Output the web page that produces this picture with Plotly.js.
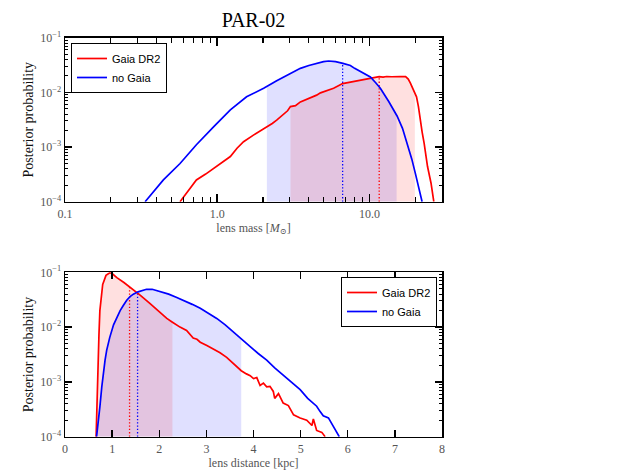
<!DOCTYPE html>
<html>
<head>
<meta charset="utf-8">
<script src="https://cdn.plot.ly/plotly-3.0.1.min.js"></script>
<style>html,body{margin:0;padding:0;background:#fff;}#chart{width:627px;height:470px;}</style>
</head>
<body>
<div id="chart"></div>
<script>
// ---------- data ----------
// Top panel: lens mass [M_sun] vs posterior probability
const massNoGaia = [0.336, 0.443, 0.57, 0.73, 0.95, 1.22, 1.56, 2.02, 2.46, 2.9, 3.52, 4.0, 4.53, 5.0, 5.4, 6.0, 6.7, 7.5, 8.0, 9.0, 10.15, 11.0, 11.8, 13.4, 15.2, 16.5, 17.7, 19.0, 20.1, 21.2, 22.2];
const probMassNoGaia = [1e-4, 2.5e-4, 5.0e-4, 1.1e-3, 2.36e-3, 4.8e-3, 8.3e-3, 1.19e-2, 1.63e-2, 2.1e-2, 2.75e-2, 3.1e-2, 3.4e-2, 3.65e-2, 3.75e-2, 3.65e-2, 3.4e-2, 3.1e-2, 2.75e-2, 2.3e-2, 1.92e-2, 1.5e-2, 1.19e-2, 6.8e-3, 3.7e-3, 2.2e-3, 1.2e-3, 6e-4, 3.2e-4, 1.7e-4, 1e-4];
const massGaia = [0.57, 0.65, 0.73, 0.84, 0.95, 1.08, 1.22, 1.35, 1.49, 1.73, 1.95, 2.12, 2.3, 2.46, 2.6, 2.73, 2.9, 3.03, 3.27, 3.52, 3.8, 4.1, 4.5, 4.77, 5.3, 5.82, 6.67, 7.3, 8.0, 8.8, 9.66, 10.4, 11.6, 12.3, 13.0, 14.0, 15.0, 16.0, 17.3, 18.0, 18.6, 19.5, 20.4, 21.0, 21.4, 22.2, 22.9, 24.1, 25.4, 26.5];
const probMassGaia = [1e-4, 1.6e-4, 2.5e-4, 3.2e-4, 4.1e-4, 5.3e-4, 6.7e-4, 9.5e-4, 1.25e-3, 1.65e-3, 2.0e-3, 2.36e-3, 2.7e-3, 3.1e-3, 3.5e-3, 4.0e-3, 4.6e-3, 5.5e-3, 5.7e-3, 6.7e-3, 7.3e-3, 8.0e-3, 8.9e-3, 9.8e-3, 1.08e-2, 1.19e-2, 1.45e-2, 1.52e-2, 1.62e-2, 1.72e-2, 1.8e-2, 1.88e-2, 1.94e-2, 1.9e-2, 1.95e-2, 1.93e-2, 1.96e-2, 1.95e-2, 1.94e-2, 1.75e-2, 1.47e-2, 1.1e-2, 8.3e-3, 5.5e-3, 3.6e-3, 1.9e-3, 1.17e-3, 4.4e-4, 2.2e-4, 1e-4];
// credible intervals (shaded) and medians (dotted)
const massIntervalNoGaia = [2.12, 15.1];
const massIntervalGaia = [3.03, 19.9];
const massMedianNoGaia = 6.67;
const massMedianGaia = 11.6;

// Bottom panel: lens distance [kpc] vs posterior probability
const distGaia = [0.66, 0.69, 0.72, 0.74, 0.77, 0.80, 0.87, 0.95, 1.0, 1.1, 1.25, 1.45, 1.6, 1.8, 2.0, 2.16, 2.28, 2.44, 2.58, 2.72, 2.80, 2.87, 3.01, 3.15, 3.29, 3.43, 3.57, 3.74, 3.85, 3.93, 4.0, 4.07, 4.14, 4.21, 4.28, 4.35, 4.42, 4.45, 4.53, 4.63, 4.74, 4.85, 4.99, 5.13, 5.24, 5.27, 5.34, 5.45, 5.52];
const probDistGaia = [1e-4, 1.3e-3, 7e-3, 0.02, 0.04, 0.06, 0.088, 0.098, 0.095, 0.08, 0.065, 0.048, 0.038, 0.027, 0.019, 0.0144, 0.0123, 0.010, 8.7e-3, 6.3e-3, 6.0e-3, 5.3e-3, 4.6e-3, 4.0e-3, 3.4e-3, 2.8e-3, 2.2e-3, 1.6e-3, 1.4e-3, 1.3e-3, 1.15e-3, 1.2e-3, 8.6e-4, 9.5e-4, 8.1e-4, 8.3e-4, 6.7e-4, 5.0e-4, 6.1e-4, 4.1e-4, 3.7e-4, 2.5e-4, 2.2e-4, 2.0e-4, 1.6e-4, 2.1e-4, 1.3e-4, 1.2e-4, 1e-4];
const distNoGaia = [0.67, 0.70, 0.74, 0.78, 0.81, 0.85, 0.885, 0.95, 1.03, 1.1, 1.17, 1.24, 1.31, 1.38, 1.45, 1.55, 1.65, 1.73, 1.85, 2.02, 2.2, 2.36, 2.51, 2.7, 2.87, 3.05, 3.22, 3.4, 3.57, 3.75, 3.93, 4.1, 4.28, 4.45, 4.63, 4.8, 4.99, 5.15, 5.34, 5.41, 5.48, 5.59, 5.65, 5.7, 5.76, 5.82];
const probDistNoGaia = [1e-4, 2e-4, 3.5e-4, 8e-4, 1.4e-3, 2.5e-3, 3.8e-3, 6.5e-3, 0.011, 0.015, 0.02, 0.025, 0.031, 0.036, 0.040, 0.044, 0.047, 0.049, 0.049, 0.045, 0.040, 0.035, 0.031, 0.026, 0.022, 0.018, 0.0144, 0.011, 8.3e-3, 6.0e-3, 4.4e-3, 3.3e-3, 2.5e-3, 1.8e-3, 1.34e-3, 1.0e-3, 7.2e-4, 5.0e-4, 3.6e-4, 2.9e-4, 2.4e-4, 2.2e-4, 1.8e-4, 1.5e-4, 1.25e-4, 1e-4];
const distIntervalNoGaia = [0.67, 3.74];
const distIntervalGaia = [0.66, 2.28];
const distMedianNoGaia = 1.54;
const distMedianGaia = 1.37;

const seriesNames = ['Gaia DR2', 'no Gaia'];
const yTickVals = [1e-4, 1e-3, 1e-2, 1e-1];
const yTickText = ['10<sup>−4</sup>', '10<sup>−3</sup>', '10<sup>−2</sup>', '10<sup>−1</sup>'];
const massTickVals = [0.1, 1, 10];
const massTickText = ['0.1', '1.0', '10.0'];
const yFloor = 1e-4;

// ---------- helpers ----------
function interp(xs, ys, x, logx) {
  const fx = v => logx ? Math.log10(v) : v;
  for (let i = 0; i < xs.length - 1; i++) {
    if (x >= xs[i] && x <= xs[i + 1]) {
      const t = (fx(x) - fx(xs[i])) / (fx(xs[i + 1]) - fx(xs[i]));
      return Math.pow(10, Math.log10(ys[i]) + t * (Math.log10(ys[i + 1]) - Math.log10(ys[i])));
    }
  }
  return x < xs[0] ? ys[0] : ys[ys.length - 1];
}
function shade(xs, ys, iv, logx, color, xa, ya) {
  const px = [iv[0]], py = [interp(xs, ys, iv[0], logx)];
  xs.forEach((x, i) => { if (x > iv[0] && x < iv[1]) { px.push(x); py.push(ys[i]); } });
  px.push(iv[1]); py.push(interp(xs, ys, iv[1], logx));
  px.push(iv[1], iv[0]); py.push(yFloor, yFloor);
  return {x: px, y: py, xaxis: xa, yaxis: ya, type: 'scatter', mode: 'lines', fill: 'toself',
          fillcolor: color, line: {width: 0}, hoverinfo: 'skip', showlegend: false};
}
function median(xs, ys, m, logx, color, xa, ya) {
  return {x: [m, m], y: [yFloor, interp(xs, ys, m, logx)], xaxis: xa, yaxis: ya, type: 'scatter', mode: 'lines',
          line: {color: color, width: 1.3, dash: '1.3px,2px'}, hoverinfo: 'skip', showlegend: false};
}
const RED = '#ff0000', BLUE = '#0000ff';
const RED_FILL = 'rgba(255,0,0,0.12)', BLUE_FILL = 'rgba(0,0,255,0.12)';

const traces = [
  shade(massNoGaia, probMassNoGaia, massIntervalNoGaia, true, BLUE_FILL, 'x', 'y'),
  shade(massGaia, probMassGaia, massIntervalGaia, true, RED_FILL, 'x', 'y'),
  median(massNoGaia, probMassNoGaia, massMedianNoGaia, true, BLUE, 'x', 'y'),
  median(massGaia, probMassGaia, massMedianGaia, true, RED, 'x', 'y'),
  {x: massGaia, y: probMassGaia, xaxis: 'x', yaxis: 'y', type: 'scatter', mode: 'lines', name: seriesNames[0],
   line: {color: RED, width: 1.7}, legend: 'legend'},
  {x: massNoGaia, y: probMassNoGaia, xaxis: 'x', yaxis: 'y', type: 'scatter', mode: 'lines', name: seriesNames[1],
   line: {color: BLUE, width: 1.7}, legend: 'legend'},

  shade(distNoGaia, probDistNoGaia, distIntervalNoGaia, false, BLUE_FILL, 'x2', 'y2'),
  shade(distGaia, probDistGaia, distIntervalGaia, false, RED_FILL, 'x2', 'y2'),
  median(distGaia, probDistGaia, distMedianGaia, false, RED, 'x2', 'y2'),
  median(distNoGaia, probDistNoGaia, distMedianNoGaia, false, BLUE, 'x2', 'y2'),
  {x: distGaia, y: probDistGaia, xaxis: 'x2', yaxis: 'y2', type: 'scatter', mode: 'lines', name: seriesNames[0],
   line: {color: RED, width: 1.7}, legend: 'legend2'},
  {x: distNoGaia, y: probDistNoGaia, xaxis: 'x2', yaxis: 'y2', type: 'scatter', mode: 'lines', name: seriesNames[1],
   line: {color: BLUE, width: 1.7}, legend: 'legend2'}
];

// minor tick positions for log axes
function logMinor(d0, d1) { const v = []; for (let d = d0; d < d1; d++) for (let k = 2; k <= 9; k++) v.push(k * Math.pow(10, d)); return v; }

const SERIF = 'Liberation Serif, DejaVu Serif, serif';
const tickFont = {family: SERIF, size: 12, color: '#555'};
const W = 627, H = 470;
const xDom = [65 / W, 442 / W];
const logY = (dom) => ({
  type: 'log', domain: dom, range: [-4, -1], tickmode: 'array', tickvals: yTickVals, ticktext: yTickText,
  ticks: 'inside', ticklen: 7, tickwidth: 1.3, tickcolor: '#000', showline: true, linecolor: '#000', linewidth: 1.5,
  mirror: 'allticks', showgrid: false, zeroline: false, tickfont: tickFont,
  minor: {ticks: 'inside', ticklen: 3, tickwidth: 1, tickcolor: '#000', tickmode: 'array', tickvals: logMinor(-4, -1)},
  title: {text: 'Posterior probability', font: {family: SERIF, size: 14, color: '#111'}, standoff: 3}
});

const legendFont = {family: 'Liberation Sans, Arial, sans-serif', size: 11, color: '#000'};
const layout = {
  width: W, height: H, margin: {l: 0, r: 0, t: 0, b: 0},
  paper_bgcolor: '#fff', plot_bgcolor: '#fff', showlegend: true,
  title: {text: 'PAR-02', x: 253.5 / W, xanchor: 'center', y: 1 - 20 / H, yanchor: 'middle', yref: 'container',
          font: {family: SERIF, size: 20, color: '#000'}},
  xaxis: {
    type: 'log', domain: xDom, range: [-1, Math.log10(30)], anchor: 'y',
    tickmode: 'array', tickvals: massTickVals, ticktext: massTickText,
    ticks: 'inside', ticklen: 8, tickwidth: 1.6, tickcolor: '#000', showline: true, linecolor: '#000', linewidth: 1.5,
    mirror: 'allticks', showgrid: false, zeroline: false, tickfont: tickFont,
    minor: {ticks: 'inside', ticklen: 5, tickwidth: 1.3, tickcolor: '#000', tickmode: 'array', tickvals: logMinor(-1, 2)},
    title: {text: 'lens mass [<i>M</i><sub>⊙</sub>]', font: {family: SERIF, size: 12, color: '#555'}, standoff: 2}
  },
  yaxis: Object.assign(logY([1 - 201.7 / H, 1 - 37.7 / H]), {anchor: 'x'}),
  xaxis2: {
    domain: xDom, range: [0, 8], anchor: 'y2', dtick: 1, tick0: 0,
    ticks: 'inside', ticklen: 7, tickwidth: 1.3, tickcolor: '#000', showline: true, linecolor: '#000', linewidth: 1.5,
    mirror: 'allticks', showgrid: false, zeroline: false, tickfont: tickFont,
    title: {text: 'lens distance [kpc]', font: {family: SERIF, size: 12, color: '#555'}, standoff: 2}
  },
  yaxis2: Object.assign(logY([1 - 436.7 / H, 1 - 272.3 / H]), {anchor: 'x2'}),
  legend: {x: 71 / W, y: 1 - 43 / H, xanchor: 'left', yanchor: 'top', bgcolor: '#fff', bordercolor: '#000', borderwidth: 1,
           font: legendFont, itemwidth: 30, tracegroupgap: 0},
  legend2: {x: 437 / W, y: 1 - 277 / H, xanchor: 'right', yanchor: 'top', bgcolor: '#fff', bordercolor: '#000', borderwidth: 1,
            font: legendFont, itemwidth: 30, tracegroupgap: 0}
};

Plotly.newPlot('chart', traces, layout, {displayModeBar: false, staticPlot: true});
</script>
</body>
</html>
